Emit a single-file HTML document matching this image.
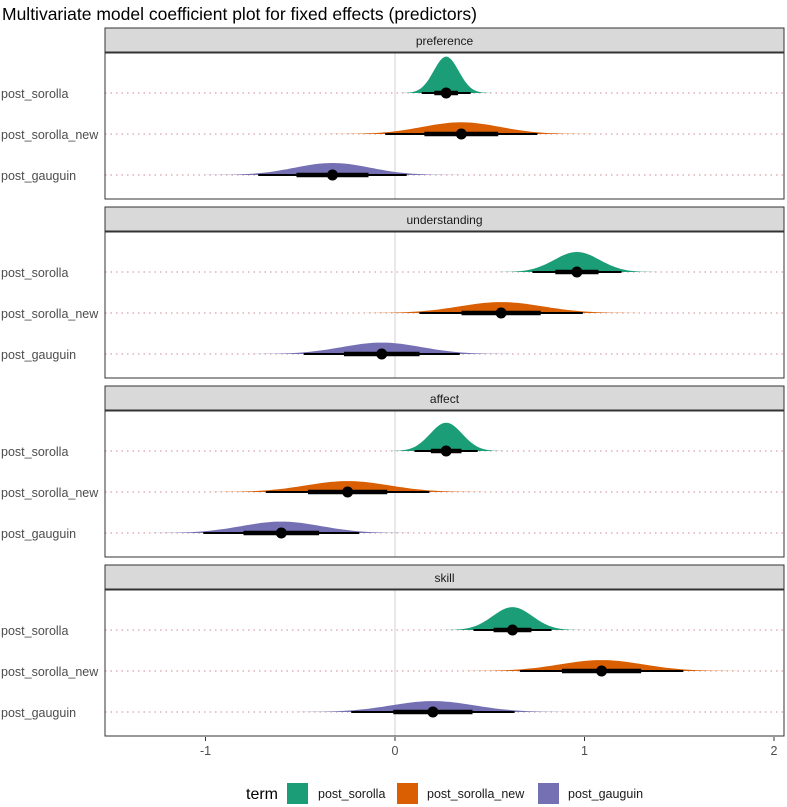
<!DOCTYPE html>
<html><head><meta charset="utf-8"><style>
body{margin:0;background:#fff;}
svg{display:block;font-family:"Liberation Sans",sans-serif;}
</style></head><body>
<svg id="chart" width="787" height="807" xmlns="http://www.w3.org/2000/svg">
<text x="2" y="20" font-size="17.5" fill="#000">Multivariate model coefficient plot for fixed effects (predictors)</text>
<g id="panels"></g>
<g id="axis"></g>
<g id="legend">
<text x="246" y="799" font-size="16" fill="#000">term</text>
<rect x="287" y="783" width="21" height="21" fill="#1b9e77"/>
<text x="318" y="798" font-size="12.5" fill="#1a1a1a">post_sorolla</text>
<rect x="397" y="783" width="21" height="21" fill="#d95f02"/>
<text x="427" y="798" font-size="12.5" fill="#1a1a1a">post_sorolla_new</text>
<rect x="538" y="783" width="21" height="21" fill="#7570b3"/>
<text x="568" y="798" font-size="12.5" fill="#1a1a1a">post_gauguin</text>
</g>
</svg>
<script>
const facets = ["preference","understanding","affect","skill"];
const terms = ["post_sorolla","post_sorolla_new","post_gauguin"];
const colors = ["#1b9e77","#d95f02","#7570b3"];
const means = [[0.27,0.35,-0.33],[0.96,0.56,-0.07],[0.27,-0.25,-0.60],[0.62,1.09,0.20]];
const sds = [[0.066,0.205,0.20],[0.12,0.22,0.21],[0.085,0.22,0.21],[0.105,0.22,0.22]];
const xTicks = [-1,0,1,2];

const NS="http://www.w3.org/2000/svg";
const X0=105, X1=784;
function xs(v){return 395+v*189.5;}
function mk(tag,attrs,parent){const e=document.createElementNS(NS,tag);for(const k in attrs)e.setAttribute(k,attrs[k]);parent.appendChild(e);return e;}
const panels=document.getElementById('panels');
facets.forEach((f,fi)=>{
  const top=28+fi*179;
  const g=mk('g',{},panels);
  
  
  const strip=mk('rect',{x:X0,y:top,width:X1-X0,height:24,fill:'#d9d9d9',stroke:'#333','stroke-width':1},g);
  
  
  const st=mk('text',{x:(X0+X1)/2,y:top+17,'font-size':12,'text-anchor':'middle',fill:'#1a1a1a'},g);
  st.textContent=f;
  
  
  const pt=top+25, pb=pt+146;
  const zl=mk('line',{x1:xs(0),x2:xs(0),y1:pt,y2:pb,stroke:'#d0d0d0','stroke-width':1},g);
  
  
  terms.forEach((t,ti)=>{
    const y=pt+40+ti*41;
    const dl=mk('line',{x1:X0,x2:X1,y1:y,y2:y,stroke:'#d9a0a8','stroke-width':1.2,'stroke-dasharray':'1.5 4'},g);
    
    
    const lab=mk('text',{x:1,y:y+5,'font-size':12.5,fill:'#4d4d4d'},g);
    lab.textContent=t;
    
    
    const m=means[fi][ti], s=sds[fi][ti];
    const h=2.4/s;
    let d='M'+xs(m-4*s)+','+y;
    for(let k=0;k<=80;k++){const v=m-4*s+k*8*s/80;const z=(v-m)/s;d+=' L'+xs(v).toFixed(1)+','+(y-h*Math.exp(-z*z/2)).toFixed(1);}
    d+=' Z';
    const dens=mk('path',{d:d,fill:colors[ti]},g);
    
    
    const l95=mk('line',{x1:xs(m-1.96*s),x2:xs(m+1.96*s),y1:y,y2:y,stroke:'#000','stroke-width':2},g);
    
    
    const l66=mk('line',{x1:xs(m-0.95*s),x2:xs(m+0.95*s),y1:y,y2:y,stroke:'#000','stroke-width':4.5},g);
    
    
    const c=mk('circle',{cx:xs(m),cy:y,r:5.5,fill:'#000'},g);
    
    
  });
  const pr=mk('rect',{x:X0,y:pt,width:X1-X0,height:146,fill:'none',stroke:'#333','stroke-width':1},g);
  
  
});
const ax=document.getElementById('axis');
xTicks.forEach(v=>{
  const tl=mk('line',{x1:xs(v),x2:xs(v),y1:737,y2:741,stroke:'#333'},ax);
  
  
  const tt=mk('text',{x:xs(v),y:755,'font-size':12.5,'text-anchor':'middle',fill:'#4d4d4d'},ax);
  tt.textContent=v;
  
  
});
</script>
</body></html>
